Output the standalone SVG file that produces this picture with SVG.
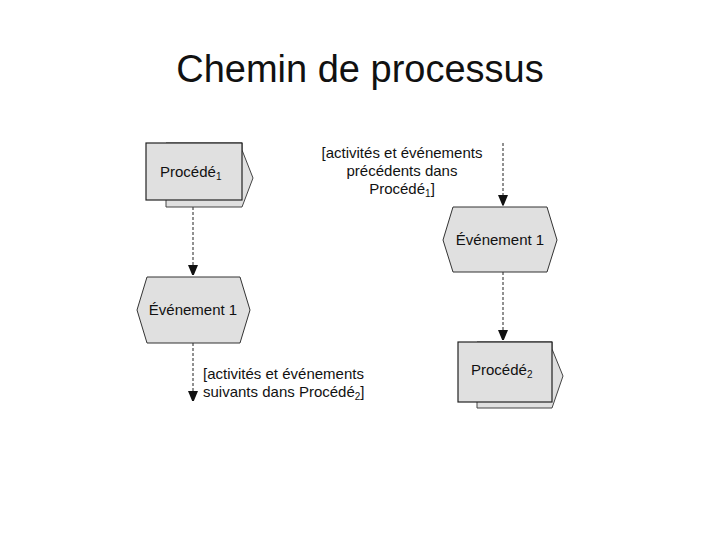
<svg xmlns="http://www.w3.org/2000/svg" width="720" height="540" viewBox="0 0 720 540">
<style>
text{font-family:"Liberation Sans",Arial,sans-serif;fill:#111}
.t{font-size:38px}
.l{font-size:15px}
.back{fill:#e0e0e0;stroke:#444;stroke-width:1}
.front{fill:#e0e0e0;stroke:#222;stroke-width:1.2}
.hex{fill:#e0e0e0;stroke:#333;stroke-width:1}
.c{stroke:#222;stroke-width:1;stroke-dasharray:3,2;fill:none}
</style>
<defs><marker id="a" markerWidth="10" markerHeight="12" refX="5" refY="11" orient="auto" markerUnits="userSpaceOnUse" viewBox="0 0 10 12"><path d="M0,0 L10,0 L5,12 Z" fill="#111" transform="rotate(-90 5 6) translate(0 0)"/></marker>
<marker id="b" markerWidth="10" markerHeight="12" refX="12" refY="5" orient="auto" markerUnits="userSpaceOnUse"><path d="M0,0 L12,5 L0,10 Z" fill="#111"/></marker></defs>
<rect width="720" height="540" fill="#fff"/>
<text class="t" x="360" y="82" text-anchor="middle">Chemin de processus</text>
<g id="connectors">
<line class="c" x1="193" y1="207" x2="193" y2="277" marker-end="url(#b)"/>
<line class="c" x1="193" y1="343" x2="193" y2="403" marker-end="url(#b)"/>
<line class="c" x1="503" y1="143" x2="503" y2="207" marker-end="url(#b)"/>
<line class="c" x1="503" y1="272" x2="503" y2="342" marker-end="url(#b)"/>
</g>
<g id="proc1">
<polygon class="back" points="166,207 242,207 253,178 242,150 242,143 166,143"/>
<rect class="front" x="146" y="143" width="96" height="57"/>
<text class="l" x="160" y="177">Procédé<tspan font-size="10" dy="3">1</tspan></text>
</g>
<g id="label1">
<text class="l" x="402" y="158" text-anchor="middle">[activités et événements</text>
<text class="l" x="402" y="176" text-anchor="middle">précédents dans</text>
<text class="l" x="402" y="194" text-anchor="middle">Procédé<tspan font-size="10" dy="3">1</tspan><tspan dy="-3">]</tspan></text>
</g>
<g id="event2">
<polygon class="hex" points="453,207 547,207 557,240 547,272 453,272 443,240"/>
<text class="l" x="500" y="245" text-anchor="middle">Événement 1</text>
</g>
<g id="event1">
<polygon class="hex" points="147,277 240,277 250,310 240,343 147,343 137,310"/>
<text class="l" x="193" y="315" text-anchor="middle">Événement 1</text>
</g>
<g id="label2">
<text class="l" x="203" y="379">[activités et événements</text>
<text class="l" x="203" y="397">suivants dans Procédé<tspan font-size="10" dy="3">2</tspan><tspan dy="-3">]</tspan></text>
</g>
<g id="proc2">
<polygon class="back" points="477,408 552,408 563,376 552,349 552,342 477,342"/>
<rect class="front" x="458" y="342" width="94" height="60" stroke-width="1.8"/>
<text class="l" x="471" y="375">Procédé<tspan font-size="10" dy="3">2</tspan></text>
</g>
</svg>
